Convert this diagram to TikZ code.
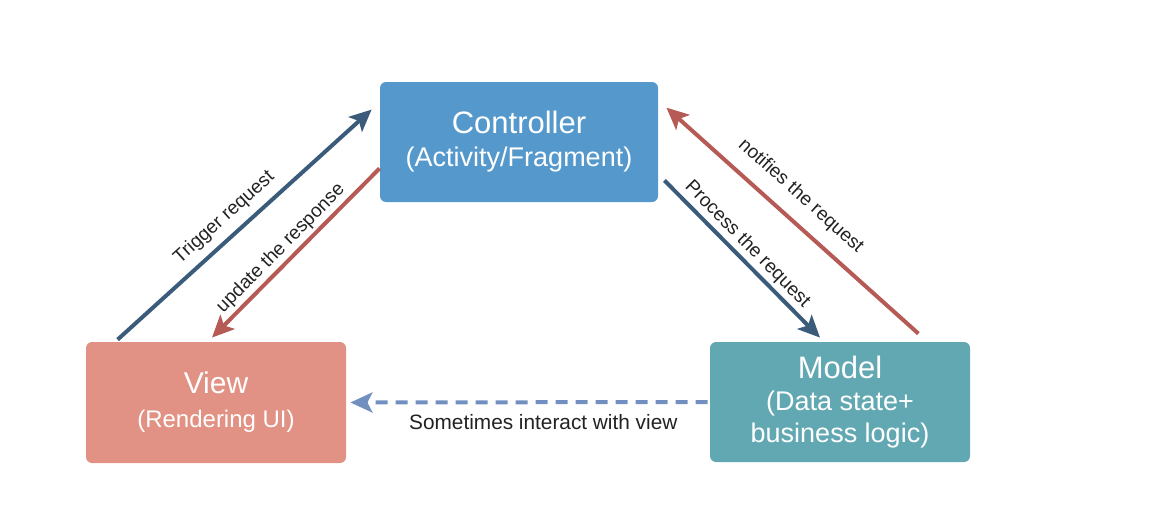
\documentclass[tikz,border=0pt]{standalone}
\usepackage{fontspec}
\setmainfont{Liberation Sans}
\usetikzlibrary{positioning, arrows.meta, calc}
\definecolor{ctrlblue}{HTML}{5599CC}
\definecolor{viewred}{HTML}{E29284}
\definecolor{modelteal}{HTML}{62A8B3}
\definecolor{reqblue}{HTML}{3B5B7A}
\definecolor{respred}{HTML}{B55A55}
\definecolor{dashblue}{HTML}{7190C0}
\definecolor{labelgray}{HTML}{222222}

\begin{document}
\begin{tikzpicture}[x=0.5pt, y=-0.5pt,
    mvcbox/.style={rounded corners=3pt, text=white, align=center, inner sep=0pt},
    flow/.style={line width=2pt, -{Stealth[length=11pt, width=10pt, inset=2.5pt]}},
    flowlabel/.style={font=\fontsize{9.5}{11}\selectfont, text=labelgray, sloped, above, inner sep=1.5pt}]
    \useasboundingbox (0,0) rectangle (1156,530);
    % Caixas MVC
    \node[mvcbox, fill=ctrlblue, minimum width=139pt, minimum height=60pt,
          font=\fontsize{13.5}{16.5}\selectfont] (ctrl) at (519,142)
          {{\fontsize{15.5}{16.5}\selectfont Controller}\\(Activity/Fragment)};
    \node[mvcbox, fill=viewred, minimum width=130pt, minimum height=60.5pt,
          font=\fontsize{12}{17}\selectfont] (view) at (216,402.5)
          {{\fontsize{15}{17}\selectfont View}\\(Rendering UI)};
    \node[mvcbox, fill=modelteal, minimum width=130pt, minimum height=60pt,
          font=\fontsize{13.5}{16}\selectfont] (model) at (840,402)
          {{\fontsize{15.5}{16}\selectfont Model}\\(Data state+\\business logic)};
    % Setas entre View e Controller
    \draw[flow, reqblue] ([xshift=16pt, yshift=1pt]view.north west)
      -- node[flowlabel, pos=0.47, above=2.5pt] {Trigger request}
      ([xshift=-4pt, yshift=-14pt]ctrl.north west);
    \draw[flow, respred] ([yshift=17pt]ctrl.south west)
      -- node[flowlabel, pos=0.53] {update the response}
      ([xshift=-2pt, yshift=2pt]view.north);
    % Setas entre Controller e Model
    \draw[flow, reqblue] ([xshift=3pt, yshift=11pt]ctrl.south east)
      -- node[flowlabel, pos=0.47] {Process the request}
      ([xshift=-10pt, yshift=2pt]model.north);
    \draw[flow, respred] ([xshift=-26pt, yshift=4pt]model.north east)
      -- node[flowlabel, pos=0.53, above=5pt] {notifies the request}
      ([xshift=4pt, yshift=-13pt]ctrl.north east);
    % Model -> View (tracejada)
    \draw[flow, dashblue, dash pattern=on 6pt off 4pt] ([xshift=-1pt]model.west)
      -- node[font=\fontsize{10.4}{12}\selectfont, text=labelgray, below=2pt, pos=0.46]
         {Sometimes interact with view}
      ([xshift=2pt]view.east);
  \end{tikzpicture}
\end{document}
